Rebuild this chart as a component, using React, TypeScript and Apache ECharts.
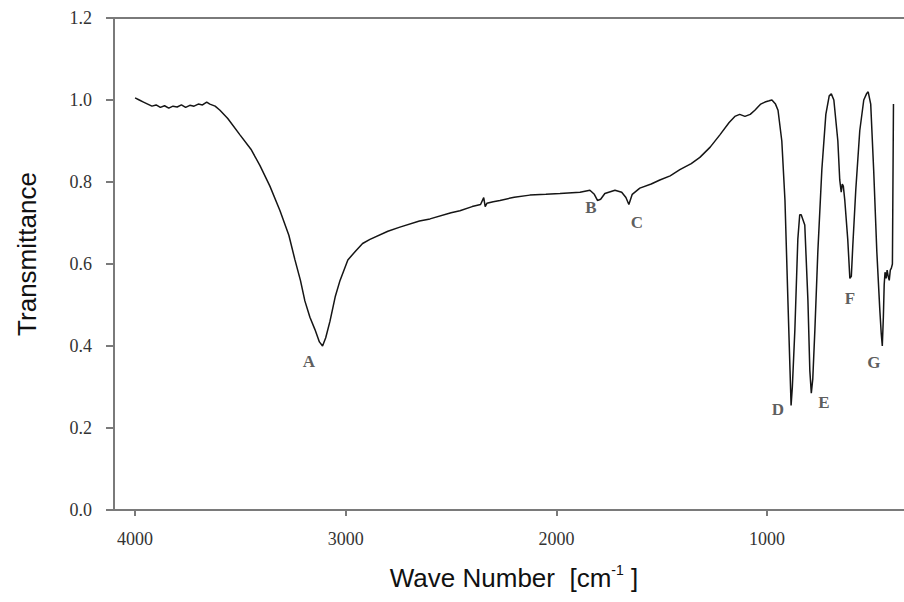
import React, { useEffect, useRef } from "react";
import * as echarts from "echarts";

// Wave number (cm-1) and transmittance
const waveNumbers = [
  4000, 3980, 3960, 3940, 3920, 3900, 3880, 3860, 3840, 3820, 3800, 3780, 3760, 3740, 3720, 3700,
  3680, 3660, 3645, 3620, 3597, 3560, 3502, 3450, 3407, 3360, 3312, 3270, 3241, 3215, 3194, 3170,
  3146, 3125, 3110, 3095, 3075, 3050, 3027, 2990, 2956, 2920, 2885, 2800, 2743, 2650, 2600, 2500,
  2458, 2400, 2360, 2345, 2338, 2330, 2300, 2268, 2200, 2126, 2050, 1983, 1888, 1841, 1820, 1805,
  1790, 1770, 1722, 1690, 1670, 1656, 1640, 1604, 1550, 1509, 1460, 1414, 1360, 1319, 1270, 1224,
  1180, 1153, 1130, 1105, 1080, 1058, 1030, 1010, 990, 977, 960, 948, 930, 915, 901, 891,
  886, 880, 868, 854, 845, 838, 821, 806, 797, 790, 783, 773, 759, 740, 721, 705,
  695, 683, 664, 655, 648, 643, 638, 631, 617, 607, 600, 593, 579, 560, 541, 528,
  520, 508, 494, 479, 465, 458, 453, 448, 444, 440, 435, 430, 425, 420, 415, 410,
  405, 400,
];
const transmittance = [
  1.005, 1.0, 0.995, 0.99, 0.985, 0.988, 0.982, 0.986, 0.98, 0.985, 0.983, 0.988, 0.982, 0.987, 0.985, 0.99,
  0.988, 0.995, 0.99, 0.985, 0.975, 0.955, 0.915, 0.88, 0.84, 0.79, 0.73, 0.67, 0.61, 0.56, 0.51, 0.47,
  0.44, 0.41, 0.40, 0.42, 0.46, 0.52, 0.56, 0.61, 0.63, 0.65, 0.66, 0.68, 0.69, 0.705, 0.71, 0.725,
  0.73, 0.74, 0.745, 0.762, 0.74, 0.748, 0.752, 0.755, 0.763, 0.768, 0.77, 0.772, 0.775, 0.78, 0.77, 0.755,
  0.758, 0.772, 0.78, 0.775, 0.762, 0.745, 0.77, 0.785, 0.795, 0.805, 0.815, 0.83, 0.845, 0.86, 0.885, 0.915,
  0.945, 0.96, 0.965, 0.96, 0.965, 0.975, 0.99, 0.995, 0.998, 1.0, 0.99, 0.975, 0.9, 0.755, 0.51, 0.34,
  0.255, 0.3, 0.44, 0.66, 0.72, 0.72, 0.695, 0.51, 0.34, 0.285, 0.32, 0.44, 0.63, 0.83, 0.965, 1.01,
  1.015, 1.0, 0.9, 0.805, 0.775, 0.795, 0.79, 0.755, 0.66, 0.565, 0.57, 0.645, 0.78, 0.925, 1.0, 1.015,
  1.02, 0.99, 0.83, 0.63, 0.49, 0.43, 0.4, 0.47, 0.55, 0.58, 0.565, 0.585, 0.57, 0.56, 0.585, 0.59,
  0.6, 0.99,
];

// Peak annotations: letter, wave number, transmittance of the letter
const peakNames = ["A", "B", "C", "D", "E", "F", "G"];
const peakWave = [3175, 1836, 1618, 949, 730, 607, 493];
const peakLabelT = [0.361, 0.737, 0.702, 0.244, 0.261, 0.517, 0.359];

const xTicks = [4000, 3000, 2000, 1000];

export default function App() {
  const ref = useRef<HTMLDivElement>(null);
  useEffect(() => {
    if (!ref.current) return;
    const chart = echarts.init(ref.current, undefined, { renderer: "svg" });
    const axisColor = "#7a7a7a";
    const serif = "'Liberation Serif', 'Times New Roman', serif";
    const sans = "'Liberation Sans', Arial, sans-serif";
    chart.setOption({
      animation: false,
      backgroundColor: "#ffffff",
      grid: { left: 114, right: 0, top: 18, bottom: 92, containLabel: false },
      xAxis: [
        {
          type: "value",
          inverse: true,
          min: 350,
          max: 4100,
          axisLine: { show: true, onZero: false, lineStyle: { color: axisColor, width: 2 } },
          axisTick: {
            show: true,
            inside: false,
            length: 6,
            customValues: xTicks,
            lineStyle: { color: axisColor, width: 2 },
          },
          axisLabel: {
            show: true,
            customValues: xTicks,
            margin: 20,
            fontFamily: serif,
            fontSize: 18,
            color: "#333",
            formatter: (v: number) => String(v),
          },
          splitLine: { show: false },
        },
        {
          type: "value",
          position: "top",
          inverse: true,
          min: 350,
          max: 4100,
          axisLine: { show: true, onZero: false, lineStyle: { color: axisColor, width: 2 } },
          axisTick: { show: false },
          axisLabel: { show: false },
          splitLine: { show: false },
        },
      ],
      yAxis: {
        type: "value",
        min: 0,
        max: 1.2,
        interval: 0.2,
        axisLine: { show: true, lineStyle: { color: axisColor, width: 2 } },
        axisTick: { show: true, inside: false, length: 8, lineStyle: { color: axisColor, width: 2 } },
        axisLabel: {
          margin: 22,
          fontFamily: serif,
          fontSize: 18,
          color: "#333",
          formatter: (v: number) => v.toFixed(1),
        },
        splitLine: { show: false },
      },
      series: [
        {
          type: "line",
          data: waveNumbers.map((w, i) => [w, transmittance[i]]),
          showSymbol: false,
          symbol: "none",
          lineStyle: { color: "#151515", width: 1.5 },
          silent: true,
        },
        {
          type: "scatter",
          symbolSize: 0,
          data: peakNames.map((n, i) => ({ name: n, value: [peakWave[i], peakLabelT[i]] })),
          label: {
            show: true,
            position: "inside",
            formatter: "{b}",
            fontFamily: serif,
            fontSize: 17,
            fontWeight: "bold",
            color: "#333",
          },
          silent: true,
        },
      ],
      graphic: [
        {
          type: "text",
          x: 27,
          y: 254,
          rotation: Math.PI / 2,
          style: {
            text: "Transmittance",
            fontFamily: sans,
            fontSize: 26,
            fill: "#111",
            align: "center",
            verticalAlign: "middle",
          },
        },
        {
          type: "text",
          x: 514,
          y: 578,
          style: {
            text: "{t|Wave Number  [cm}{s|-1}{t| ]}",
            align: "center",
            verticalAlign: "middle",
            rich: {
              t: { fontFamily: sans, fontSize: 26, fill: "#111", lineHeight: 30 },
              s: { fontFamily: sans, fontSize: 14, fill: "#111", verticalAlign: "top", lineHeight: 30, padding: [0, 0, 10, 0] },
            },
          },
        },
      ],
    });
    return () => chart.dispose();
  }, []);
  return (
    <div
      ref={ref}
      style={{ position: "fixed", left: 0, top: 0, width: 904, height: 602, background: "#fff" }}
    />
  );
}
